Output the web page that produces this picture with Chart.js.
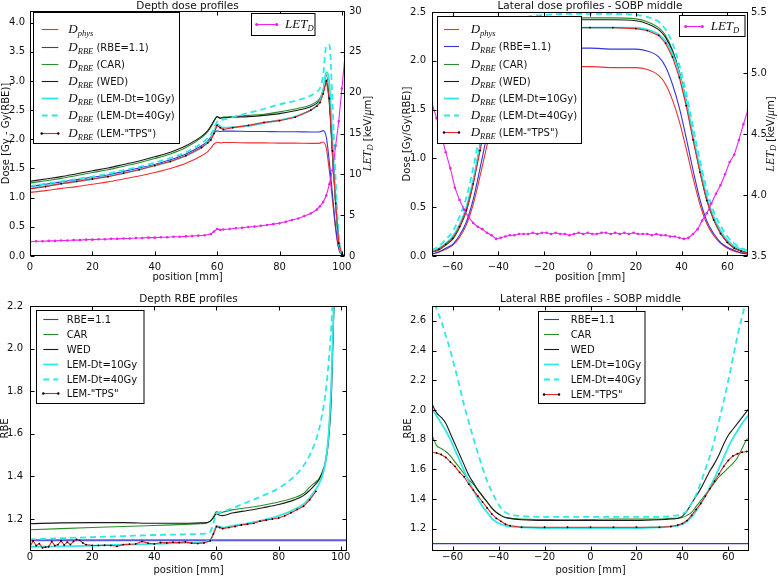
<!DOCTYPE html>
<html lang="en">
<head>
<meta charset="UTF-8" />
<title>Depth and lateral dose / RBE profiles</title>
<script src="https://cdn.jsdelivr.net/npm/chart.js"></script>
<style>
  body { margin: 0; background: #fff; }
  #wrap { position: relative; width: 778px; height: 577px; }
  canvas { position: absolute; }
</style>
</head>
<body>
<div id="wrap">
  <canvas id="depthDose" width="389" height="290" style="left:0;top:0"></canvas>
  <canvas id="latDose" width="389" height="290" style="left:389px;top:0"></canvas>
  <canvas id="depthRbe" width="389" height="287" style="left:0;top:290px"></canvas>
  <canvas id="latRbe" width="389" height="287" style="left:389px;top:290px"></canvas>
</div>
<script>
// ---------- depth dose profiles (top left) ----------
const depthPos = [0,5,10,15,20,25,30,35,40,45,50,55,57,58,59,60,61,62,65,70,75,80,85,90,92,93,94,95,96,97,98,99,100,101];
const depthPhys  = [1.09,1.12,1.16,1.19,1.23,1.27,1.32,1.37,1.43,1.50,1.59,1.72,1.79,1.85,1.92,1.95,1.94,1.945,1.945,1.94,1.94,1.935,1.935,1.93,1.93,1.935,1.955,1.85,1.45,0.95,0.45,0.12,0.02,0];
const depthRbe11 = [1.19,1.23,1.27,1.31,1.35,1.39,1.45,1.51,1.57,1.65,1.75,1.89,1.97,2.04,2.11,2.145,2.135,2.14,2.14,2.135,2.135,2.13,2.13,2.125,2.125,2.13,2.15,2.04,1.6,1.05,0.5,0.13,0.02,0];
const depthCar   = [1.25,1.29,1.33,1.38,1.43,1.48,1.54,1.60,1.67,1.75,1.86,2.03,2.13,2.21,2.31,2.39,2.37,2.38,2.39,2.41,2.43,2.47,2.52,2.59,2.65,2.71,2.85,3.1,2.7,1.75,0.9,0.22,0.03,0];
const depthWed   = [1.28,1.32,1.36,1.41,1.46,1.51,1.57,1.63,1.70,1.78,1.89,2.05,2.15,2.23,2.32,2.39,2.36,2.37,2.38,2.39,2.41,2.44,2.49,2.56,2.62,2.68,2.80,2.98,2.6,1.7,0.9,0.22,0.03,0];
const depthLem10 = [1.16,1.20,1.24,1.28,1.32,1.37,1.42,1.48,1.55,1.62,1.72,1.86,1.95,2.00,2.12,2.26,2.22,2.20,2.21,2.23,2.28,2.33,2.39,2.50,2.58,2.66,2.85,3.15,2.95,1.95,1.0,0.25,0.03,0];
const depthLem40 = [1.20,1.24,1.28,1.32,1.36,1.41,1.47,1.53,1.60,1.68,1.78,1.93,2.02,2.08,2.20,2.30,2.33,2.34,2.38,2.45,2.52,2.60,2.66,2.75,2.82,2.88,3.10,3.60,3.62,2.6,1.3,0.35,0.05,0];
const depthTps   = [1.15,1.19,1.24,1.28,1.32,1.36,1.42,1.48,1.55,1.62,1.72,1.86,1.94,1.99,2.10,2.24,2.20,2.17,2.20,2.24,2.29,2.32,2.38,2.50,2.57,2.63,2.78,3.0,2.7,1.8,0.9,0.22,0.03,0];
const letDepthPos = [0,2,4,6,8,10,12,14,16,18,20,22,24,26,28,30,32,34,36,38,40,42,44,46,48,50,52,54,56,58,59,60,61,62,64,66,68,70,72,74,76,78,80,82,84,86,88,90,92,93,94,95,96,97,98,99,100,101];
const letDepth = [1.75,1.8,1.8,1.85,1.85,1.9,1.9,1.95,1.95,2.0,2.0,2.05,2.05,2.1,2.1,2.15,2.15,2.2,2.2,2.25,2.25,2.3,2.3,2.35,2.35,2.4,2.45,2.5,2.55,2.7,3.0,3.3,3.2,3.25,3.3,3.4,3.45,3.55,3.6,3.7,3.8,3.9,4.0,4.2,4.4,4.6,4.9,5.2,5.7,6.1,6.6,7.4,8.8,10.5,13.5,16.5,20.5,24.5];

// ---------- lateral dose profiles (top right) ----------
const latPos = [-69,-66,-63,-60,-57,-54,-51,-48,-45,-42,-39,-36,-33,-30,-25,-20,-10,0,10,20,25,30,33,36,39,42,45,48,51,54,57,60,63,66,69];
const latPhys  = [0.02,0.04,0.07,0.11,0.19,0.32,0.53,0.82,1.13,1.42,1.65,1.80,1.87,1.91,1.93,1.94,1.94,1.94,1.93,1.93,1.91,1.85,1.76,1.60,1.38,1.10,0.80,0.53,0.33,0.21,0.13,0.08,0.05,0.03,0.02];
const latRbe11 = [0.02,0.04,0.08,0.12,0.21,0.35,0.58,0.90,1.24,1.56,1.82,1.98,2.06,2.10,2.12,2.13,2.13,2.13,2.12,2.12,2.10,2.04,1.94,1.76,1.52,1.21,0.88,0.58,0.36,0.23,0.14,0.09,0.06,0.03,0.02];
const latCar   = [0.04,0.06,0.11,0.17,0.29,0.46,0.74,1.12,1.50,1.82,2.06,2.23,2.33,2.39,2.42,2.43,2.44,2.44,2.44,2.43,2.40,2.34,2.26,2.11,1.89,1.59,1.22,0.87,0.57,0.37,0.23,0.14,0.08,0.05,0.03];
const latWed   = [0.04,0.07,0.12,0.18,0.30,0.47,0.76,1.14,1.48,1.79,2.03,2.20,2.30,2.36,2.40,2.41,2.42,2.42,2.42,2.41,2.38,2.32,2.24,2.10,1.88,1.58,1.22,0.88,0.58,0.38,0.24,0.14,0.09,0.05,0.03];
const latLem10 = [0.05,0.08,0.13,0.20,0.32,0.50,0.78,1.12,1.46,1.75,2.00,2.16,2.26,2.31,2.33,2.34,2.34,2.34,2.34,2.34,2.32,2.27,2.20,2.07,1.87,1.58,1.23,0.90,0.61,0.40,0.26,0.16,0.10,0.07,0.05];
const latLem40 = [0.06,0.10,0.17,0.25,0.40,0.60,0.90,1.26,1.60,1.90,2.12,2.28,2.38,2.43,2.46,2.47,2.48,2.48,2.48,2.47,2.45,2.40,2.32,2.18,1.96,1.67,1.32,0.98,0.68,0.46,0.31,0.20,0.13,0.08,0.06];
const latTps   = [0.04,0.07,0.12,0.18,0.30,0.47,0.74,1.08,1.42,1.72,1.98,2.15,2.25,2.30,2.33,2.34,2.34,2.34,2.34,2.33,2.31,2.26,2.18,2.04,1.83,1.54,1.19,0.86,0.57,0.37,0.23,0.14,0.08,0.05,0.03];
const letLatPos = [-69,-67,-65,-63,-61,-59,-57,-55,-53,-51,-49,-47,-45,-43,-41,-39,-37,-35,-33,-31,-29,-27,-25,-23,-21,-19,-17,-15,-13,-11,-9,-7,-5,-3,-1,1,3,5,7,9,11,13,15,17,19,21,23,25,27,29,31,33,35,37,39,41,43,45,47,49,51,53,55,57,59,61,63,65,67,69];
const letLat = [4.75,4.63,4.50,4.35,4.22,4.06,3.96,3.88,3.82,3.77,3.74,3.72,3.69,3.67,3.64,3.65,3.66,
  3.67,3.67,3.68,3.68,3.68,3.69,3.68,3.69,3.69,3.68,3.69,3.68,3.68,3.67,3.68,3.69,3.68,3.69,3.68,3.68,3.69,3.69,3.68,3.69,3.68,3.69,3.68,3.69,3.68,3.68,3.68,3.67,3.68,3.67,3.67,3.66,
  3.66,3.65,3.64,3.65,3.68,3.72,3.79,3.85,3.93,4.01,4.08,4.17,4.27,4.33,4.45,4.58,4.70];

// ---------- depth RBE profiles (bottom left) ----------
const rbeDepthPos = [0,10,20,30,40,50,55,57,58,59,60,61,62,65,70,75,80,85,88,90,92,93,94,95,96,97,98,99];
const rbeCar   = [1.150,1.155,1.160,1.165,1.170,1.175,1.178,1.182,1.19,1.21,1.235,1.228,1.232,1.243,1.253,1.265,1.28,1.30,1.32,1.35,1.375,1.39,1.42,1.47,1.58,1.85,2.3,3.0];
const rbeWed   = [1.178,1.182,1.183,1.183,1.180,1.180,1.182,1.184,1.19,1.205,1.225,1.218,1.216,1.228,1.24,1.253,1.268,1.29,1.31,1.335,1.365,1.385,1.415,1.46,1.56,1.78,2.3,3.0];
const rbeLem10 = [1.07,1.072,1.075,1.08,1.083,1.088,1.09,1.095,1.10,1.13,1.165,1.165,1.16,1.168,1.18,1.195,1.215,1.245,1.27,1.30,1.34,1.365,1.40,1.46,1.58,1.85,2.35,3.0];
const rbeLem40 = [1.105,1.11,1.115,1.12,1.125,1.128,1.13,1.132,1.14,1.18,1.225,1.232,1.235,1.25,1.28,1.31,1.345,1.40,1.45,1.50,1.57,1.62,1.69,1.78,1.92,2.12,2.45,3.0];
const rbeTpsPos = [0,1,2,3,4,5,6,7,8,9,10,11,12,13,14,15,16,17,18,20,22,24,26,28,30,32,34,36,38,40,42,44,46,48,50,52,54,56,58,59,60,61,62,64,66,68,70,72,74,76,78,80,82,84,86,88,90,92];
const rbeTps = [1.07,1.098,1.075,1.085,1.065,1.068,1.07,1.095,1.075,1.08,1.097,1.078,1.092,1.08,1.095,1.105,1.1,1.088,1.08,
  1.076,1.076,1.077,1.076,1.072,1.08,1.082,1.083,1.095,1.087,1.083,1.09,1.088,1.091,1.09,1.093,1.087,1.085,1.088,1.098,
  1.13,1.165,1.16,1.155,1.16,1.165,1.172,1.176,1.18,1.19,1.195,1.2,1.205,1.215,1.23,1.245,1.26,1.29,1.33];
const rbeFixedDepthPos = [0, 102];
const rbeFixedDepth = [1.1, 1.1];

// ---------- lateral RBE profiles (bottom right) ----------
const rbeLatPos = [-69,-67,-65,-63,-61,-59,-57,-55,-53,-51,-49,-47,-45,-43,-41,-39,-37,-35,-30,-20,-10,0,10,20,30,35,38,40,42,44,46,48,50,52,54,56,58,60,62,64,66,68,69];
const rbeLatCar   = [1.83,1.76,1.74,1.72,1.69,1.65,1.61,1.57,1.53,1.50,1.46,1.42,1.38,1.34,1.31,1.29,1.275,1.27,1.265,1.262,1.26,1.262,1.265,1.265,1.265,1.27,1.27,1.275,1.29,1.31,1.35,1.39,1.43,1.47,1.51,1.55,1.58,1.61,1.64,1.68,1.74,1.80,1.81];
const rbeLatWed   = [2.04,1.98,1.95,1.91,1.84,1.77,1.70,1.63,1.56,1.51,1.46,1.42,1.38,1.34,1.31,1.29,1.275,1.27,1.26,1.255,1.255,1.255,1.255,1.255,1.26,1.265,1.27,1.285,1.32,1.37,1.42,1.47,1.53,1.59,1.64,1.70,1.77,1.83,1.87,1.91,1.95,1.99,2.01];
const rbeLatLem10 = [2.01,1.96,1.91,1.86,1.80,1.73,1.66,1.59,1.52,1.46,1.40,1.35,1.31,1.27,1.245,1.23,1.22,1.215,1.21,1.205,1.205,1.205,1.205,1.205,1.21,1.215,1.22,1.23,1.25,1.28,1.32,1.37,1.42,1.48,1.54,1.61,1.68,1.75,1.81,1.86,1.91,1.95,1.97];
const rbeLatLem40 = [2.78,2.68,2.60,2.50,2.40,2.28,2.16,2.03,1.92,1.81,1.71,1.61,1.52,1.45,1.39,1.34,1.31,1.295,1.285,1.28,1.28,1.28,1.28,1.28,1.28,1.285,1.29,1.30,1.32,1.37,1.43,1.51,1.60,1.69,1.80,1.93,2.06,2.20,2.35,2.50,2.63,2.75,2.80];
const rbeLatTps   = [1.715,1.71,1.70,1.68,1.65,1.62,1.58,1.55,1.50,1.46,1.42,1.38,1.34,1.30,1.27,1.25,1.23,1.22,1.21,1.21,1.21,1.21,1.21,1.21,1.21,1.215,1.225,1.235,1.255,1.29,1.33,1.37,1.42,1.47,1.52,1.57,1.62,1.66,1.69,1.705,1.715,1.72,1.72];
const rbeFixedLatPos = [-69, 69];
const rbeFixedLat = [1.1, 1.1];

// ---------- ticks and labels ----------
const depthTicks = [0, 20, 40, 60, 80, 100];
const latTicks = [-60, -40, -20, 0, 20, 40, 60];
const doseDepthTicks = [0, 0.5, 1.0, 1.5, 2.0, 2.5, 3.0, 3.5, 4.0];
const letDepthTicks = [0, 5, 10, 15, 20, 25, 30];
const doseLatTicks = [0, 0.5, 1.0, 1.5, 2.0, 2.5];
const letLatTicks = [3.5, 4.0, 4.5, 5.0, 5.5];
const rbeDepthTicks = [1.2, 1.4, 1.6, 1.8, 2.0, 2.2];
const rbeLatTicks = [1.2, 1.4, 1.6, 1.8, 2.0, 2.2, 2.4, 2.6];

const doseLabels = [
  [['D', 'm'], ['phys', 's']],
  [['D', 'm'], ['RBE', 's'], [' (RBE=1.1)', 't']],
  [['D', 'm'], ['RBE', 's'], [' (CAR)', 't']],
  [['D', 'm'], ['RBE', 's'], [' (WED)', 't']],
  [['D', 'm'], ['RBE', 's'], [' (LEM-Dt=10Gy)', 't']],
  [['D', 'm'], ['RBE', 's'], [' (LEM-Dt=40Gy)', 't']],
  [['D', 'm'], ['RBE', 's'], [' (LEM-"TPS")', 't']]
];
const letLabel = [['LET', 'm'], ['D', 's']];
const letAxisLabel = [['LET', 'm'], ['D', 's'], [' [keV/', 't'], ['\u03bc', 'm'], ['m]', 't']];
const rbeLabels = ['RBE=1.1', 'CAR', 'WED', 'LEM-Dt=10Gy', 'LEM-Dt=40Gy', 'LEM-"TPS"'];

// line styles
const STY = {
  phys:  { color: '#ee3030', w: 1.1 },
  rbe11: { color: '#3434dc', w: 1.1 },
  car:   { color: '#2a8c2a', w: 1.1 },
  wed:   { color: '#1a1a1a', w: 1.1 },
  lem10: { color: '#30e8e8', w: 1.8 },
  lem40: { color: '#30e8e8', w: 1.8, dash: [6, 4] },
  tps:   { color: '#e82424', w: 1.1, dot: '#000', r: 0.9 },
  let:   { color: '#ee22ee', w: 1.1, dot: '#ee22ee', r: 1.3 }
};
const doseStyles = [STY.phys, STY.rbe11, STY.car, STY.wed, STY.lem10, STY.lem40, STY.tps];
const rbeStyles = [STY.rbe11, STY.car, STY.wed, STY.lem10, STY.lem40, STY.tps];

const LEG_FONTS = { m: 'italic 13px "Liberation Serif"', s: 'italic 8.5px "Liberation Serif"', t: '10px "DejaVu Sans"', sub: 3 };
const AX_FONTS = { m: 'italic 12px "Liberation Serif"', s: 'italic 8.5px "Liberation Serif"', t: '10px "DejaVu Sans"', sub: 2.5 };

Chart.defaults.font.family = '"DejaVu Sans", sans-serif';
Chart.defaults.font.size = 10;
Chart.defaults.color = '#111';

function line(xs, ys, st, axis, order) {
  return {
    data: xs.map((x, i) => ({ x: x, y: ys[i] })),
    yAxisID: axis,
    order: order,
    borderColor: st.color,
    borderWidth: st.w,
    borderDash: st.dash || [],
    pointRadius: st.dot ? st.r : 0,
    pointHoverRadius: 0,
    pointBackgroundColor: st.dot || st.color,
    pointBorderWidth: 0,
    cubicInterpolationMode: st.dot ? 'default' : 'monotone',
    tension: 0,
    fill: false
  };
}

function fmt1(v) { return (v < 0 ? '\u2212' : '') + Math.abs(v).toFixed(1); }
function fmt0(v) { return (v < 0 ? '\u2212' : '') + Math.abs(v).toFixed(0); }

function linScale(pos, min, max, tickVals, fmt, size, pad) {
  return {
    type: 'linear', position: pos, min: min, max: max,
    grid: { display: false, drawTicks: false },
    border: { display: false },
    ticks: { padding: pad, autoSkip: false, maxRotation: 0, color: '#111', callback: fmt },
    afterBuildTicks: s => { s.ticks = tickVals.map(v => ({ value: v })); },
    afterFit: s => { if (pos === 'bottom') s.height = size; else s.width = size; }
  };
}

function drawRich(ctx, parts, x, y, fonts, center) {
  ctx.textAlign = 'left';
  ctx.textBaseline = 'alphabetic';
  let w = 0;
  parts.forEach(p => { ctx.font = fonts[p[1]]; w += ctx.measureText(p[0]).width; });
  let cx = center ? x - w / 2 : x;
  parts.forEach(p => {
    ctx.font = fonts[p[1]];
    ctx.fillText(p[0], cx, y + (p[1] === 's' ? fonts.sub : 0));
    cx += ctx.measureText(p[0]).width;
  });
}

// per-canvas decoration: titles, axis labels, inward ticks, frame, legends
const DECOR = {};

const decorPlugin = {
  id: 'decor',
  afterDraw(chart) {
    const o = DECOR[chart.canvas.id];
    if (!o) return;
    const ctx = chart.ctx, a = chart.chartArea;
    const L = Math.round(a.left) + 0.5, R = Math.round(a.right) - 0.5;
    const T = Math.round(a.top) + 0.5, B = Math.round(a.bottom) - 0.5;
    ctx.save();
    ctx.strokeStyle = '#000';
    ctx.lineWidth = 1;
    ctx.setLineDash([]);
    ctx.beginPath();
    const xs = chart.scales.x, ys = chart.scales.y, y2 = chart.scales.y2;
    xs.ticks.forEach(t => {
      const p = Math.round(xs.getPixelForValue(t.value)) + 0.5;
      ctx.moveTo(p, B); ctx.lineTo(p, B - 4);
      ctx.moveTo(p, T); ctx.lineTo(p, T + 4);
    });
    ys.ticks.forEach(t => {
      const p = Math.round(ys.getPixelForValue(t.value)) + 0.5;
      ctx.moveTo(L, p); ctx.lineTo(L + 4, p);
      if (!y2) { ctx.moveTo(R, p); ctx.lineTo(R - 4, p); }
    });
    if (y2) {
      y2.ticks.forEach(t => {
        const p = Math.round(y2.getPixelForValue(t.value)) + 0.5;
        ctx.moveTo(R, p); ctx.lineTo(R - 4, p);
      });
    }
    ctx.stroke();
    ctx.strokeRect(L, T, R - L, B - T);

    // texts
    ctx.fillStyle = '#111';
    ctx.font = '10.5px "DejaVu Sans"';
    ctx.textAlign = 'center';
    ctx.textBaseline = 'alphabetic';
    const cx = (a.left + a.right) / 2, cy = (a.top + a.bottom) / 2;
    ctx.fillText(o.title, cx, o.titleY);
    drawRich(ctx, [[o.xLabel, 't']], cx, o.xLabelY, AX_FONTS, true);
    ctx.save();
    ctx.translate(o.yLabelX + 3.5, cy);
    ctx.rotate(-Math.PI / 2);
    drawRich(ctx, [[o.yLabel, 't']], 0, 0, AX_FONTS, true);
    ctx.restore();
    if (o.y2Label) {
      ctx.save();
      ctx.translate(o.y2LabelX + 3.5, cy);
      ctx.rotate(-Math.PI / 2);
      drawRich(ctx, o.y2Label, 0, 0, AX_FONTS, true);
      ctx.restore();
    }

    // legends
    o.legends.forEach(lg => {
      const bx = lg.box[0], by = lg.box[1], bw = lg.box[2], bh = lg.box[3];
      ctx.fillStyle = '#fff';
      ctx.fillRect(bx, by, bw, bh);
      ctx.strokeStyle = '#000';
      ctx.lineWidth = 1;
      ctx.setLineDash([]);
      ctx.strokeRect(bx, by, bw, bh);
      lg.items.forEach((it, i) => {
        const y = Math.round(lg.row0 + i * lg.step) + 0.5;
        const st = it.st;
        ctx.strokeStyle = st.color;
        ctx.lineWidth = st.w;
        ctx.setLineDash(st.dash || []);
        ctx.beginPath();
        ctx.moveTo(lg.sx[0], y);
        ctx.lineTo(lg.sx[1], y);
        ctx.stroke();
        ctx.setLineDash([]);
        if (st.dot) {
          ctx.fillStyle = st.dot;
          [lg.sx[0], lg.sx[1]].forEach(px => {
            ctx.beginPath();
            ctx.arc(px, y, st.r + 0.3, 0, 2 * Math.PI);
            ctx.fill();
          });
        }
        ctx.fillStyle = '#111';
        drawRich(ctx, it.label, lg.tx, y + 3.5, LEG_FONTS, false);
      });
    });
    ctx.restore();
  }
};

function makeChart(id, datasets, scales, padding) {
  return new Chart(document.getElementById(id), {
    type: 'line',
    data: { datasets: datasets },
    options: {
      responsive: false,
      animation: false,
      devicePixelRatio: 1,
      layout: { padding: padding },
      plugins: { legend: { display: false }, tooltip: { enabled: false } },
      scales: scales
    },
    plugins: [decorPlugin]
  });
}

// ---------- top left: depth dose ----------
DECOR.depthDose = {
  title: 'Depth dose profiles', titleY: 9,
  xLabel: 'position [mm]', xLabelY: 280,
  yLabel: 'Dose [Gy - Gy(RBE)]', yLabelX: 5,
  y2Label: letAxisLabel, y2LabelX: 367,
  legends: [
    { box: [33.5, 12.5, 146, 131], row0: 29.3, step: 17.2, sx: [41.7, 58.3], tx: 68.3,
      items: doseLabels.map((l, i) => ({ label: l, st: doseStyles[i] })) },
    { box: [251.5, 13.5, 63.5, 22], row0: 24.3, step: 0, sx: [256.7, 276.7], tx: 285,
      items: [{ label: letLabel, st: STY.let }] }
  ]
};
makeChart('depthDose',
  [depthPhys, depthRbe11, depthCar, depthWed, depthLem10, depthLem40, depthTps]
    .map((ys, i) => line(depthPos, ys, doseStyles[i], 'y', 20 - i))
    .concat([line(letDepthPos, letDepth, STY.let, 'y2', 0)]),
  {
    x: linScale('bottom', 0, 101, depthTicks, fmt0, 34, 5),
    y: linScale('left', 0, 4.2, doseDepthTicks, fmt1, 30, 5),
    y2: linScale('right', 0, 30, letDepthTicks, fmt0, 44, 4)
  },
  { top: 11, right: 0, left: 0, bottom: 0 });

// ---------- top right: lateral dose ----------
DECOR.latDose = {
  title: 'Lateral dose profiles - SOBP middle', titleY: 9,
  xLabel: 'position [mm]', xLabelY: 280,
  yLabel: 'Dose [Gy/Gy(RBE)]', yLabelX: 17,
  y2Label: letAxisLabel, y2LabelX: 381,
  legends: [
    { box: [48.5, 16.5, 144, 127], row0: 29.3, step: 17.1, sx: [55, 70], tx: 81.7,
      items: doseLabels.map((l, i) => ({ label: l, st: doseStyles[i] })) },
    { box: [290.5, 15.5, 65.5, 21], row0: 25.5, step: 0, sx: [296.7, 313.3], tx: 321.7,
      items: [{ label: letLabel, st: STY.let }] }
  ]
};
makeChart('latDose',
  [latPhys, latRbe11, latCar, latWed, latLem10, latLem40, latTps]
    .map((ys, i) => line(latPos, ys, doseStyles[i], 'y', 20 - i))
    .concat([line(letLatPos, letLat, STY.let, 'y2', 0)]),
  {
    x: linScale('bottom', -69, 69, latTicks, fmt0, 34, 5),
    y: linScale('left', 0, 2.5, doseLatTicks, fmt1, 43, 6),
    y2: linScale('right', 3.5, 5.5, letLatTicks, fmt1, 30, 3)
  },
  { top: 11, right: 0, left: 0, bottom: 0 });

// ---------- bottom left: depth RBE ----------
DECOR.depthRbe = {
  title: 'Depth RBE profiles', titleY: 12,
  xLabel: 'position [mm]', xLabelY: 283,
  yLabel: 'RBE', yLabelX: 4,
  legends: [
    { box: [36.5, 20.5, 107.5, 93], row0: 29.3, step: 14.8, sx: [43.3, 58.3], tx: 66.7,
      items: rbeLabels.map((l, i) => ({ label: [[l, 't']], st: rbeStyles[i] })) }
  ]
};
makeChart('depthRbe',
  [
    line(rbeFixedDepthPos, rbeFixedDepth, { color: '#5a5ae0', w: 2 }, 'y', 20),
    line(rbeDepthPos, rbeCar, STY.car, 'y', 19),
    line(rbeDepthPos, rbeWed, STY.wed, 'y', 18),
    line(rbeDepthPos, rbeLem10, STY.lem10, 'y', 17),
    line(rbeDepthPos, rbeLem40, STY.lem40, 'y', 16),
    line(rbeTpsPos, rbeTps, STY.tps, 'y', 15)
  ],
  {
    x: linScale('bottom', 0, 102, depthTicks, fmt0, 26, 0),
    y: linScale('left', 1.05, 2.2, rbeDepthTicks, fmt1, 30, 7)
  },
  { top: 16, right: 42, left: 0, bottom: 0 });

// ---------- bottom right: lateral RBE ----------
DECOR.latRbe = {
  title: 'Lateral RBE profiles - SOBP middle', titleY: 12,
  xLabel: 'position [mm]', xLabelY: 283,
  yLabel: 'RBE', yLabelX: 18,
  legends: [
    { box: [149.5, 21.5, 106.5, 92], row0: 29.3, step: 15, sx: [155, 170], tx: 181.7,
      items: rbeLabels.map((l, i) => ({ label: [[l, 't']], st: rbeStyles[i] })) }
  ]
};
makeChart('latRbe',
  [
    line(rbeFixedLatPos, rbeFixedLat, STY.rbe11, 'y', 20),
    line(rbeLatPos, rbeLatCar, STY.car, 'y', 19),
    line(rbeLatPos, rbeLatWed, STY.wed, 'y', 18),
    line(rbeLatPos, rbeLatLem10, STY.lem10, 'y', 17),
    line(rbeLatPos, rbeLatLem40, STY.lem40, 'y', 16),
    line(rbeLatPos, rbeLatTps, STY.tps, 'y', 15)
  ],
  {
    x: linScale('bottom', -69, 69, latTicks, fmt0, 26, 0),
    y: linScale('left', 1.05, 2.7, rbeLatTicks, fmt1, 43, 6)
  },
  { top: 16, right: 29, left: 0, bottom: 0 });
</script>
</body>
</html>
